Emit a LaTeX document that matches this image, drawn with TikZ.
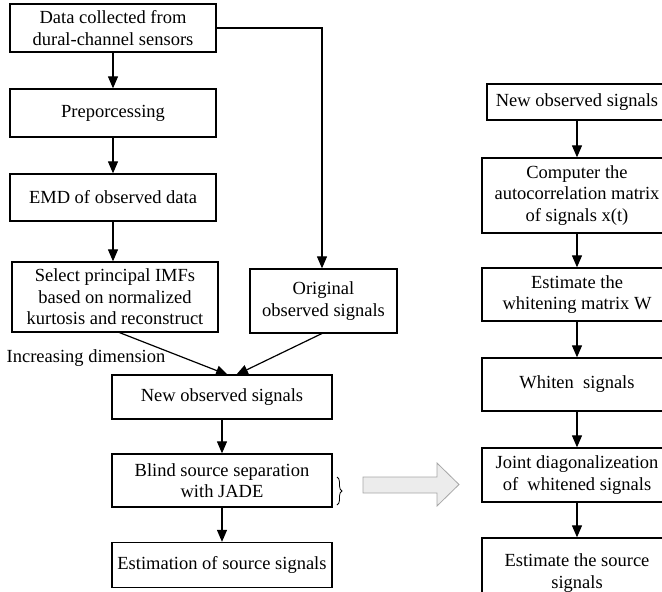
\documentclass[tikz,border=0pt]{standalone}
\usepackage{fontspec}
\setmainfont{Liberation Serif}
\usetikzlibrary{arrows.meta,decorations.pathreplacing}
\begin{document}
\begin{tikzpicture}[x=1pt,y=1pt,
  box/.style={draw=black,line width=1.3pt,align=center,inner sep=2pt,
    font=\fontsize{18.5}{21.5}\selectfont},
  arr/.style={line width=1.2pt,-{Triangle[length=12pt,width=10pt]}},
  ln/.style={line width=1.2pt}]
\path[use as bounding box,clip] (0,0) rectangle (662,-592);
% left column
\node[box,minimum width=206,minimum height=48] (b1) at (113,-28) {Data collected from\\dural-channel sensors};
\node[box,minimum width=206,minimum height=48] (b2) at (113,-113) {Preporcessing};
\node[box,minimum width=206,minimum height=47] (b3) at (113,-197.5) {EMD of observed data};
\node[box,minimum width=206,minimum height=70] (b4) at (115,-297) {Select principal IMFs\\based on normalized\\kurtosis and reconstruct};
\node[box,minimum width=147,minimum height=64] (orig) at (323.5,-301) {Original\\observed signals};
\node[box,minimum width=220,minimum height=44] (new) at (222,-397) {New observed signals};
\node[box,minimum width=220,minimum height=53] (bss) at (222,-480.5) {Blind source separation\\with JADE};
\node[box,minimum width=220,minimum height=45] (est) at (222,-565) {Estimation of source signals};
\node[font=\fontsize{18.5}{21.5}\selectfont,inner sep=0pt] (inc) at (86,-358) {Increasing dimension};
% connectors left
\draw[arr] (b1.south) -- (b2.north);
\draw[arr] (b2.south) -- (b3.north);
\draw[arr] (b3.south) -- (b3.south |- b4.north);
\coordinate (turn) at (322,-28);
\draw[arr] (b1.east |- turn) -- (turn) -- (turn |- orig.north);
\coordinate (s1) at (118,-332);
\coordinate (e1) at (228,-375);
\coordinate (s2) at (323,-333);
\coordinate (e2) at (236,-375);
\draw[arr] (s1) -- (e1);
\draw[arr] (s2) -- (e2);
\draw[arr] (new.south) -- (bss.north);
\draw[arr] (bss.south) -- (est.north);
% brace
\coordinate (bt) at (337,-477);
\coordinate (bb) at (337,-505);
\draw[line width=0.8pt,decorate,decoration={brace,amplitude=5pt}] (bt) -- (bb);
% big arrow
\draw[draw=gray!70,fill=gray!15,line width=0.8pt] (363,-477) -- (437,-477) -- (437,-463) -- (459,-484.5) -- (437,-506) -- (437,-493) -- (363,-493) -- cycle;
% right column
\node[box,minimum width=180,minimum height=36] (r1) at (577,-102) {New observed signals};
\node[box,minimum width=190,minimum height=75] (r2) at (577,-195.5) {Computer the\\autocorrelation matrix\\of signals x(t)};
\node[box,minimum width=190,minimum height=53] (r3) at (577,-294.5) {Estimate the\\whitening matrix W};
\node[box,minimum width=190,minimum height=53] (r4) at (577,-384.5) {Whiten\ \ signals};
\node[box,minimum width=190,minimum height=54] (r5) at (577,-475) {Joint diagonalizeation\\of\ \ whitened signals};
\node[box,minimum width=190,minimum height=70] (r6) at (577,-573) {Estimate the source\\signals};
\draw[arr] (r1.south) -- (r2.north);
\draw[arr] (r2.south) -- (r3.north);
\draw[arr] (r3.south) -- (r4.north);
\draw[arr] (r4.south) -- (r5.north);
\draw[arr] (r5.south) -- (r6.north);
\end{tikzpicture}
\end{document}
